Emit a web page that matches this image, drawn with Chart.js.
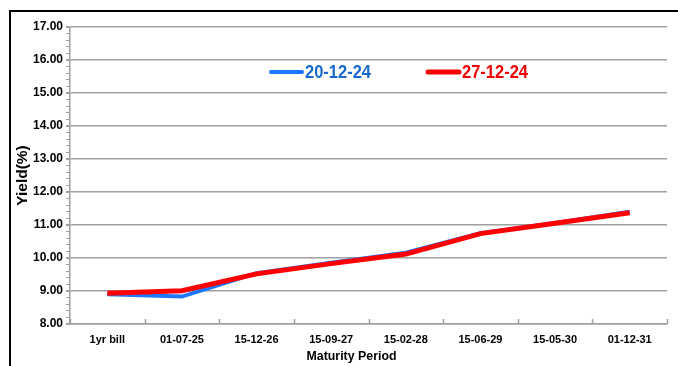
<!DOCTYPE html>
<html>
<head>
<meta charset="utf-8">
<script src="https://cdn.jsdelivr.net/npm/chart.js@4/dist/chart.umd.min.js"></script>
<style>
  html, body { margin: 0; padding: 0; background: #fff; }
  #wrap { width: 678px; height: 366px; position: relative; }
</style>
</head>
<body>
<div id="wrap"><canvas id="yieldChart"></canvas></div>
<script>
// Maturity buckets along the curve
const maturities = ['1yr bill', '01-07-25', '15-12-26', '15-09-27', '15-02-28', '15-06-29', '15-05-30', '01-12-31'];
// Yields (%) for the two weeks
const yield20Dec24 = [8.90, 8.83, 9.54, 9.86, 10.16, 10.75, 11.06, 11.40];
const yield27Dec24 = [8.93, 9.01, 9.52, 9.83, 10.12, 10.74, 11.05, 11.37];
const seriesLabels = ['20-12-24', '27-12-24'];
const xAxisTitle = 'Maturity Period';
// Value axis range
const yMin = 8;
const yMax = 17;
const yMajorStep = 1;
const yMinorStep = 0.2;

const BLUE_LINE = '#1E78FF';
const BLUE_TEXT = '#1769CC';
const RED_LINE = '#FF0000';
const RED_TEXT = '#F20000';
const GRID = '#a0a0a0';
const FONT = '"Liberation Sans", Arial, sans-serif';

// Outer frame and white background
const framePlugin = {
  id: 'frame',
  beforeDraw(chart) {
    const { ctx, width, height } = chart;
    ctx.save();
    ctx.fillStyle = '#fff';
    ctx.fillRect(0, 0, width, height);
    ctx.strokeStyle = '#000';
    ctx.lineWidth = 2;
    ctx.beginPath();
    ctx.moveTo(10, height);
    ctx.lineTo(10, 11);
    ctx.lineTo(width, 11);
    ctx.stroke();
    ctx.restore();
  }
};

// Short inward tick marks on the category axis, between categories,
// plus the category-axis title
const categoryAxisPlugin = {
  id: 'categoryAxis',
  afterDraw(chart, args, opts) {
    const x = chart.scales.x;
    const { ctx, chartArea } = chart;
    const base = chartArea.bottom;
    ctx.save();
    ctx.strokeStyle = GRID;
    ctx.lineWidth = 1.5;
    ctx.beginPath();
    for (let i = 0; i <= maturities.length; i++) {
      const px = Math.round(x.getPixelForValue(i - 0.5)) + 0.5;
      ctx.moveTo(px, base);
      ctx.lineTo(px, base - 5);
    }
    ctx.stroke();

    ctx.fillStyle = '#000';
    ctx.font = opts.font;
    ctx.textAlign = 'center';
    ctx.textBaseline = 'middle';
    ctx.fillText(xAxisTitle, (chartArea.left + chartArea.right) / 2 + opts.shift, opts.y, opts.maxWidth);
    ctx.restore();
  }
};

// Legend drawn inside the plot area
const insideLegendPlugin = {
  id: 'insideLegend',
  afterDatasetsDraw(chart, args, opts) {
    const { ctx } = chart;
    ctx.save();
    ctx.font = opts.font;
    ctx.textBaseline = 'middle';
    ctx.textAlign = 'left';
    opts.items.forEach((it, i) => {
      const ds = chart.data.datasets[i];
      ctx.strokeStyle = ds.borderColor;
      ctx.lineWidth = it.lineWidth;
      ctx.lineCap = 'round';
      ctx.beginPath();
      ctx.moveTo(it.x, opts.y);
      ctx.lineTo(it.x + opts.sampleLength, opts.y);
      ctx.stroke();
      ctx.fillStyle = it.textColor;
      ctx.fillText(ds.label, it.x + opts.sampleLength + opts.gap, opts.y + 1, opts.textWidth);
    });
    ctx.restore();
  }
};

new Chart(document.getElementById('yieldChart'), {
  type: 'line',
  data: {
    labels: maturities,
    datasets: [
      {
        label: seriesLabels[0],
        data: yield20Dec24,
        borderColor: BLUE_LINE,
        backgroundColor: BLUE_LINE,
        borderWidth: 4,
        pointRadius: 0,
        tension: 0,
        order: 2
      },
      {
        label: seriesLabels[1],
        data: yield27Dec24,
        borderColor: RED_LINE,
        backgroundColor: RED_LINE,
        borderWidth: 5,
        pointRadius: 0,
        tension: 0,
        order: 1
      }
    ]
  },
  options: {
    responsive: true,
    maintainAspectRatio: false,
    animation: false,
    layout: { padding: { left: 0, right: 11, top: 27, bottom: 0 } },
    plugins: {
      legend: { display: false },
      tooltip: { enabled: false },
      categoryAxis: {
        font: 'bold 13.5px ' + FONT,
        y: 356,
        shift: -17,
        maxWidth: 90
      },
      insideLegend: {
        y: 72,
        sampleLength: 31,
        gap: 3,
        textWidth: 66,
        font: 'bold 19px ' + FONT,
        items: [
          { x: 271, lineWidth: 4, textColor: BLUE_TEXT },
          { x: 428, lineWidth: 5, textColor: RED_TEXT }
        ]
      }
    },
    scales: {
      x: {
        type: 'category',
        offset: true,
        grid: { display: true, drawOnChartArea: false, drawTicks: false, offset: true, color: GRID },
        border: { display: true, color: GRID, width: 1.5 },
        ticks: {
          autoSkip: false,
          maxRotation: 0,
          padding: 9,
          color: '#000',
          font: { family: FONT, size: 11, weight: 'bold' }
        },
        afterFit(scale) { scale.height = 42; }
      },
      y: {
        position: 'left',
        weight: 1,
        min: yMin,
        max: yMax,
        ticks: {
          stepSize: yMajorStep,
          padding: 3,
          color: '#000',
          font: { family: FONT, size: 12, weight: 'bold' },
          callback: (v) => Number(v).toFixed(2)
        },
        grid: { color: GRID, lineWidth: 1.5, tickLength: 4, tickColor: GRID },
        border: { color: GRID, width: 1.5 },
        title: {
          display: true,
          text: 'Yield(%)',
          color: '#000',
          font: { family: FONT, size: 15.5, weight: 'bold' },
          padding: { top: 13, bottom: 0 }
        },
        afterFit(scale) { scale.width = 70; }
      },
      yMinor: {
        position: 'left',
        weight: 0,
        min: yMin,
        max: yMax,
        ticks: { display: false, stepSize: yMinorStep, autoSkip: false },
        grid: { drawOnChartArea: false, tickLength: 4, tickColor: GRID, lineWidth: 1 },
        border: { display: false },
        afterFit(scale) { scale.width = 0; }
      }
    }
  },
  plugins: [framePlugin, categoryAxisPlugin, insideLegendPlugin]
});
</script>
</body>
</html>
